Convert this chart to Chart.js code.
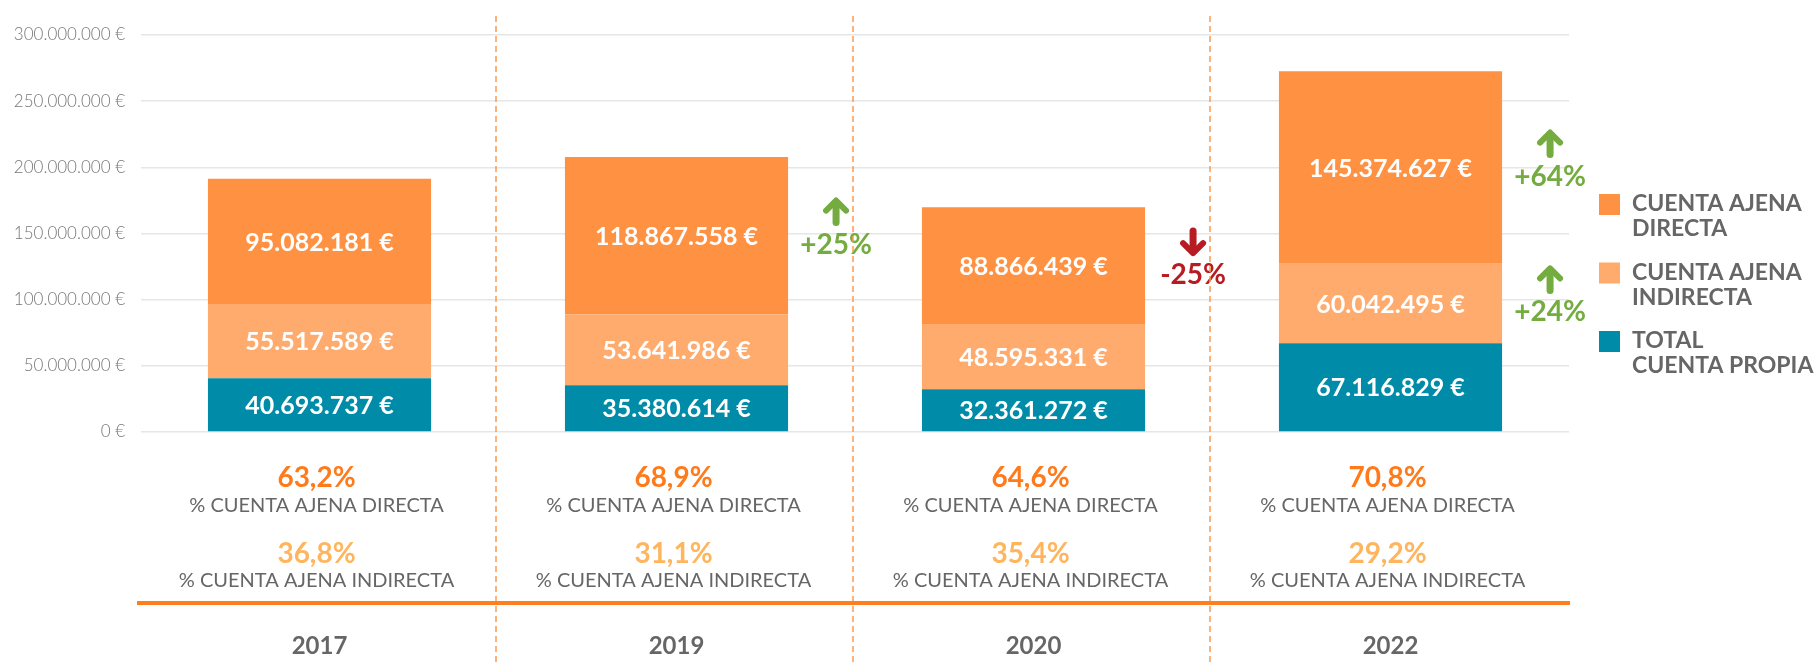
<!DOCTYPE html>
<html lang="es">
<head>
<meta charset="UTF-8">
<title>Cuenta ajena / cuenta propia</title>
<script src="https://cdn.jsdelivr.net/npm/chart.js"></script>
<style>
    html, body { margin: 0; padding: 0; background: #fff; }
    #wrap { width: 1814px; height: 665px; }
</style>
</head>
<body>
<div id="wrap"><canvas id="chart"></canvas></div>
<script>
    const years = ['2017', '2019', '2020', '2022'];
    const ajenaDirecta = [95082181, 118867558, 88866439, 145374627];
    const ajenaIndirecta = [55517589, 53641986, 48595331, 60042495];
    const cuentaPropia = [40693737, 35380614, 32361272, 67116829];
    const pctDirecta = ['63,2%', '68,9%', '64,6%', '70,8%'];
    const pctIndirecta = ['36,8%', '31,1%', '35,4%', '29,2%'];
    // variación respecto al año anterior
    const varDirecta = [null, '+25%', '-25%', '+64%'];
    const varIndirecta = [null, null, null, '+24%'];
    const yTicks = [0, 50000000, 100000000, 150000000, 200000000, 250000000, 300000000];

    const FONT = 'Lato, "Open Sans", sans-serif';
    const GREY = '#666666';

    function euro(v) {
        return v.toLocaleString('de-DE') + ' €';
    }

    function drawArrow(ctx, x, y, up, color) {
        ctx.save();
        ctx.strokeStyle = color;
        ctx.fillStyle = color;
        ctx.lineWidth = 7;
        ctx.lineCap = 'round';
        ctx.lineJoin = 'round';
        const d = up ? -1 : 1;
        ctx.beginPath();
        ctx.moveTo(x, y - d * 11);
        ctx.lineTo(x, y + d * 9);
        ctx.stroke();
        ctx.lineWidth = 6;
        ctx.beginPath();
        ctx.moveTo(x - 10, y + d * 1);
        ctx.lineTo(x, y + d * 11);
        ctx.lineTo(x + 10, y + d * 1);
        ctx.stroke();
        ctx.restore();
    }

    const extras = {
        id: 'extras',
        afterDatasetsDraw(chart) {
            const ctx = chart.ctx;
            const area = chart.chartArea;
            const xs = chart.scales.x;

            // etiquetas de valor dentro de cada segmento
            ctx.save();
            ctx.fillStyle = '#fff';
            ctx.font = 'bold 25px ' + FONT;
            ctx.textAlign = 'center';
            ctx.textBaseline = 'middle';
            chart.data.datasets.forEach((ds, i) => {
                chart.getDatasetMeta(i).data.forEach((bar, j) => {
                    ctx.fillText(euro(ds.data[j]), bar.x, (bar.y + bar.base) / 2 + 1);
                });
            });
            ctx.restore();

            // flechas de variación
            const arrows = [[2, varDirecta], [1, varIndirecta]];
            arrows.forEach(([dsIndex, labels]) => {
                const meta = chart.getDatasetMeta(dsIndex);
                labels.forEach((lab, j) => {
                    if (!lab) return;
                    const bar = meta.data[j];
                    const up = lab[0] === '+';
                    const color = up ? '#74ac3f' : '#b71c24';
                    const cx = bar.x + bar.width / 2 + 48;
                    const cy = (bar.y + bar.base) / 2 + 9;
                    drawArrow(ctx, cx, cy - 33, up, color);
                    ctx.save();
                    ctx.fillStyle = color;
                    ctx.font = 'bold 28px ' + FONT;
                    ctx.textAlign = 'center';
                    ctx.textBaseline = 'middle';
                    ctx.fillText(lab, cx, cy);
                    ctx.restore();
                });
            });

            // separadores verticales
            ctx.save();
            ctx.strokeStyle = '#ff9a4d';
            ctx.lineWidth = 1.5;
            ctx.setLineDash([6, 4]);
            for (let j = 0; j < years.length - 1; j++) {
                const x = (xs.getPixelForValue(j) + xs.getPixelForValue(j + 1)) / 2 - 2;
                ctx.beginPath();
                ctx.moveTo(x, 16);
                ctx.lineTo(x, chart.height);
                ctx.stroke();
            }
            ctx.restore();

            // porcentajes bajo cada barra
            ctx.save();
            ctx.textAlign = 'center';
            ctx.textBaseline = 'middle';
            years.forEach((y, j) => {
                const x = xs.getPixelForValue(j) - 3;
                ctx.font = 'bold 28px ' + FONT;
                ctx.fillStyle = '#ff7a1a';
                ctx.fillText(pctDirecta[j], x, area.bottom + 46);
                ctx.font = '20px ' + FONT;
                ctx.fillStyle = GREY;
                ctx.fillText('% CUENTA AJENA DIRECTA', x, area.bottom + 74);
                ctx.font = 'bold 28px ' + FONT;
                ctx.fillStyle = '#ffb55e';
                ctx.fillText(pctIndirecta[j], x, area.bottom + 122);
                ctx.font = '20px ' + FONT;
                ctx.fillStyle = GREY;
                ctx.fillText('% CUENTA AJENA INDIRECTA', x, area.bottom + 149);
            });
            ctx.restore();

            // línea naranja
            ctx.save();
            ctx.strokeStyle = '#ff7f1e';
            ctx.lineWidth = 4;
            ctx.beginPath();
            ctx.moveTo(area.left - 4, area.bottom + 171);
            ctx.lineTo(area.right + 1, area.bottom + 171);
            ctx.stroke();
            ctx.restore();

            // leyenda
            const items = [
                [chart.data.datasets[2], ['CUENTA AJENA', 'DIRECTA']],
                [chart.data.datasets[1], ['CUENTA AJENA', 'INDIRECTA']],
                [chart.data.datasets[0], ['TOTAL', 'CUENTA PROPIA']]
            ];
            ctx.save();
            ctx.font = 'bold 23px ' + FONT;
            ctx.textBaseline = 'middle';
            ctx.textAlign = 'left';
            const lx = area.right + 30;
            items.forEach(([ds, lines], k) => {
                const top = 194 + k * 68.5;
                ctx.fillStyle = ds.backgroundColor;
                ctx.fillRect(lx, top, 21, 21);
                ctx.fillStyle = GREY;
                ctx.fillText(lines[0], lx + 33, top + 10);
                ctx.fillText(lines[1], lx + 33, top + 35);
            });
            ctx.restore();
        }
    };

    new Chart(document.getElementById('chart'), {
        type: 'bar',
        data: {
            labels: years,
            datasets: [
                { label: 'TOTAL CUENTA PROPIA', data: cuentaPropia, backgroundColor: '#008ca8' },
                { label: 'CUENTA AJENA INDIRECTA', data: ajenaIndirecta, backgroundColor: '#ffab6e' },
                { label: 'CUENTA AJENA DIRECTA', data: ajenaDirecta, backgroundColor: '#ff9142' }
            ]
        },
        options: {
            responsive: true,
            maintainAspectRatio: false,
            animation: false,
            layout: { padding: { top: 35, right: 245, bottom: 6, left: 0 } },
            datasets: { bar: { categoryPercentage: 1, barPercentage: 0.625 } },
            plugins: { legend: { display: false }, tooltip: { enabled: false } },
            scales: {
                x: {
                    stacked: true,
                    afterFit(s) { s.height = 227; },
                    grid: { display: false, drawTicks: false },
                    border: { display: false },
                    ticks: { padding: 200, color: GREY, font: { family: FONT, size: 24, weight: 'bold' } }
                },
                y: {
                    stacked: true,
                    min: 0,
                    max: 300000000,
                    afterFit(s) { s.width = 141; },
                    afterBuildTicks(s) { s.ticks = yTicks.map(v => ({ value: v })); },
                    grid: { color: '#e6e6e6', lineWidth: 1.5, drawTicks: false },
                    border: { display: false },
                    ticks: {
                        padding: 16,
                        color: '#777',
                        font: { family: FONT, size: 17, weight: 300 },
                        callback: v => euro(v)
                    }
                }
            }
        },
        plugins: [extras]
    });
</script>
</body>
</html>
